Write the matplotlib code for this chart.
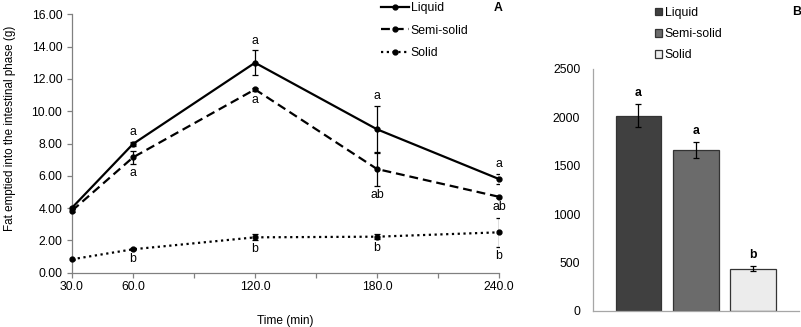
import numpy as np
import matplotlib
matplotlib.use("Agg")
import matplotlib.pyplot as plt
from matplotlib.lines import Line2D

plt.rcParams['font.family'] = ['Liberation Sans', 'DejaVu Sans']
FS = 8.8
plt.rcParams['font.size'] = FS

# Panel A: fat emptied over time
times = [30, 60, 120, 180, 240]
liquid = [4.02, 7.97, 13.0, 8.88, 5.80]
liquid_err = [0.08, 0.15, 0.76, 1.44, 0.33]
semi = [3.84, 7.14, 11.35, 6.42, 4.70]
semi_err = [0.08, 0.40, 0.08, 1.05, 0.05]
solid = [0.83, 1.45, 2.19, 2.23, 2.50]
solid_err = [0.03, 0.05, 0.18, 0.14, 0.88]

liquid_lbl = [None, 'a', 'a', 'a', 'a']
semi_lbl = [None, 'a', 'a', 'ab', 'ab']
solid_lbl = [None, 'b', 'b', 'b', 'b']

# Panel B: totals
groups = ['Liquid', 'Semi-solid', 'Solid']
totals = [2017, 1662, 434]
totals_err = [118, 80, 25]
totals_lbl = ['a', 'a', 'b']
bar_colors = ['#404040', '#6b6b6b', '#ececec']

fig = plt.figure(figsize=(8.01, 3.27), dpi=100)
axA = fig.add_axes([72/801, 1 - 272.7/327, 427/801, 258.4/327])
axB = fig.add_axes([592.7/801, 1 - 310.7/327, 206/801, 241.7/327])

styles = [('Liquid', liquid, liquid_err, liquid_lbl, '-', 'above'),
          ('Semi-solid', semi, semi_err, semi_lbl, (0, (4, 2.2)), 'below'),
          ('Solid', solid, solid_err, solid_lbl, (0, (1, 1.6)), 'below')]

handles = []
for name, vals, errs, lbls, ls, where in styles:
    axA.plot(times, vals, color='black', ls=ls, lw=1.6, marker='o', ms=3.5,
             clip_on=False, zorder=3)
    axA.errorbar(times, vals, yerr=errs, fmt='none', ecolor='black', elinewidth=0.9,
                 capsize=2.2, capthick=0.9)
    handles.append(Line2D([], [], color='black', ls=ls, lw=1.6, marker='o', ms=3.5, label=name))
    for t, v, e, l in zip(times, vals, errs, lbls):
        if l is None:
            continue
        if where == 'above':
            axA.annotate(l, (t, v + e), xytext=(0, 7), textcoords='offset points',
                         ha='center', va='center', fontsize=FS)
        else:
            axA.annotate(l, (t, v - e), xytext=(0, -6.5), textcoords='offset points',
                         ha='center', va='center', fontsize=FS)

axA.set_xlim(30, 240)
axA.set_ylim(0, 16)
axA.set_xticks([30, 60, 90, 120, 150, 180, 210, 240])
axA.set_xticklabels(['30.0', '60.0', '', '120.0', '', '180.0', '', '240.0'])
axA.set_yticks(np.arange(0, 16.1, 2))
axA.set_yticklabels([f'{v:.2f}' for v in np.arange(0, 16.1, 2)])
for s in ['top', 'right']:
    axA.spines[s].set_visible(False)
for s in ['left', 'bottom']:
    axA.spines[s].set_color('#808080')
    axA.spines[s].set_linewidth(0.9)
axA.tick_params(axis='both', colors='#808080', labelcolor='black', length=3.5, width=0.9, labelsize=FS)
axA.tick_params(axis='x', pad=2.5)
axA.set_xlabel('Time (min)', fontsize=8.6, labelpad=16)
axA.set_ylabel('Fat emptied into the intestinal phase (g)', fontsize=8.4)
axA.yaxis.set_label_coords(-0.132, 0.56)
axA.legend(handles=handles, loc='upper left', bbox_to_anchor=(376/801, 1 + 2.5/327),
           bbox_transform=fig.transFigure, frameon=False, handlelength=2.3, handletextpad=0.15,
           labelspacing=0.85, fontsize=FS, borderaxespad=0)
fig.text(498/801, 1 - 8/327, 'A', fontsize=FS, fontweight='bold', ha='center', va='center')

# Panel B bars
xpos = np.arange(len(groups))
axB.bar(xpos, totals, width=0.8, color=bar_colors, edgecolor='#333333', linewidth=0.9,
        label=groups)
axB.errorbar(xpos, totals, yerr=totals_err, fmt='none', ecolor='black', elinewidth=0.9,
             capsize=2.2, capthick=0.9)
for x, v, e, l in zip(xpos, totals, totals_err, totals_lbl):
    axB.annotate(l, (x, v + e), xytext=(0, 8), textcoords='offset points',
                 ha='center', va='center', fontsize=FS, fontweight='bold')
axB.set_xlim(-0.8, 2.8)
axB.set_ylim(0, 2500)
axB.set_yticks(np.arange(0, 2501, 500))
axB.set_xticks([])
for s in ['top', 'right']:
    axB.spines[s].set_visible(False)
for s in ['left', 'bottom']:
    axB.spines[s].set_color('#a6a6a6')
    axB.spines[s].set_linewidth(0.9)
axB.tick_params(axis='y', length=0, pad=9, labelsize=FS)
axB.legend(loc='upper left', bbox_to_anchor=(650/801, 1 - 2/327), bbox_transform=fig.transFigure,
           frameon=False, handlelength=0.6, handleheight=0.6, handletextpad=0.2,
           labelspacing=0.75, fontsize=FS, borderaxespad=0)
fig.text(797/801, 1 - 12/327, 'B', fontsize=FS, fontweight='bold', ha='center', va='center')

fig.savefig('out.png', dpi=100)
